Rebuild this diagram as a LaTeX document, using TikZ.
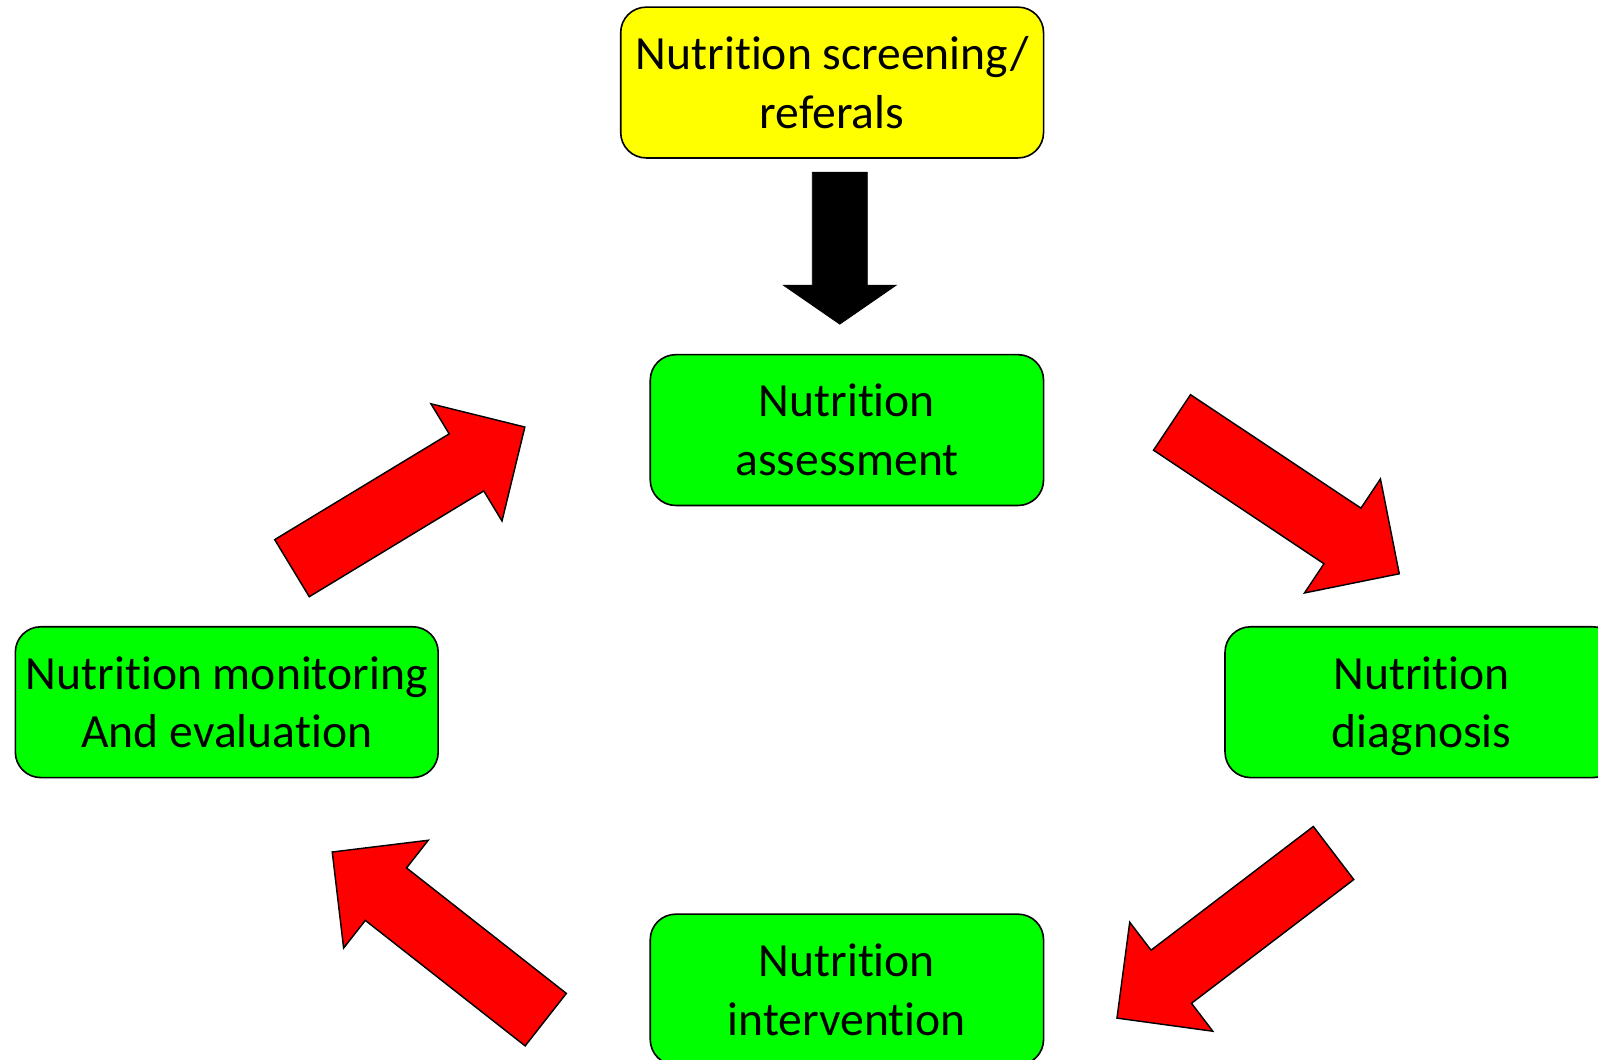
\documentclass[tikz,border=0pt]{standalone}
\usepackage{fontspec}
\setmainfont[Ligatures=NoCommon]{Carlito}
\usetikzlibrary{calc}

% block arrow: style, tail coordinate, tip coordinate, half shaft width, half head width, head length
\newcommand{\blockarrow}[6]{%
  \coordinate (ba-base) at ($(#3)!#6!(#2)$);
  \draw[#1] ($(#2)!#4!90:(#3)$) -- ($(ba-base)!#4!90:(#3)$) -- ($(ba-base)!#5!90:(#3)$)
    -- (#3) -- ($(ba-base)!#5!-90:(#3)$) -- ($(ba-base)!#4!-90:(#3)$) -- ($(#2)!#4!-90:(#3)$) -- cycle;
}

\definecolor{stagegreen}{RGB}{0,255,0}
\definecolor{stageyellow}{RGB}{255,255,0}
\definecolor{cyclered}{RGB}{255,0,0}

\tikzset{
  stage/.style={draw=black, line width=0.9pt, rounded corners=0.5cm,
    minimum height=2.96cm, align=center, inner sep=0pt,
    font=\fontsize{26.6}{32.8}\selectfont},
  widebox/.style={stage, minimum width=8.3cm},
  narrowbox/.style={stage, minimum width=7.72cm},
  cyclearrow/.style={fill=cyclered, draw=black, line width=0.8pt, line join=miter},
  entryarrow/.style={fill=black, draw=black, line width=0.5pt, line join=miter},
}

\begin{document}
\begin{tikzpicture}[x=0.02cm, y=-0.02cm]
  \useasboundingbox (0,0) rectangle (1568,1040);
  \clip (0,0) rectangle (1568,1040);

  % stages of the care process
  \node[widebox, fill=stageyellow] (screen) at (816.5,81) {Nutrition screening/\\referals};
  \node[narrowbox, fill=stagegreen] (assess) at (831,422) {Nutrition\\assessment};
  \node[narrowbox, fill=stagegreen] (diag) at (1395,689) {Nutrition\\\smash{diagnosis}};
  \node[narrowbox, fill=stagegreen] (interv) at (831,971) {Nutrition\\intervention};
  \node[widebox, fill=stagegreen] (monitor) at (222.5,689) {Nutrition monitoring\\And evaluation};

  % arrow end points
  \coordinate (e-s) at (824,169);
  \coordinate (e-e) at (824,318);
  \coordinate (c1-s) at (1150,414.5);
  \coordinate (c1-e) at (1373,563);
  \coordinate (c2-s) at (1308.5,837);
  \coordinate (c2-e) at (1096,999);
  \coordinate (c3-s) at (535.5,1000.5);
  \coordinate (c3-e) at (326,836);
  \coordinate (c4-s) at (286.5,557.5);
  \coordinate (c4-e) at (515,419);

  % entry into the cycle
  \blockarrow{entryarrow}{e-s}{e-e}{0.54cm}{1.1cm}{0.76cm}

  % the cycle
  \blockarrow{cyclearrow}{c1-s}{c1-e}{0.655cm}{1.345cm}{1.34cm}
  \blockarrow{cyclearrow}{c2-s}{c2-e}{0.655cm}{1.345cm}{1.34cm}
  \blockarrow{cyclearrow}{c3-s}{c3-e}{0.655cm}{1.345cm}{1.34cm}
  \blockarrow{cyclearrow}{c4-s}{c4-e}{0.655cm}{1.345cm}{1.34cm}
\end{tikzpicture}
\end{document}
